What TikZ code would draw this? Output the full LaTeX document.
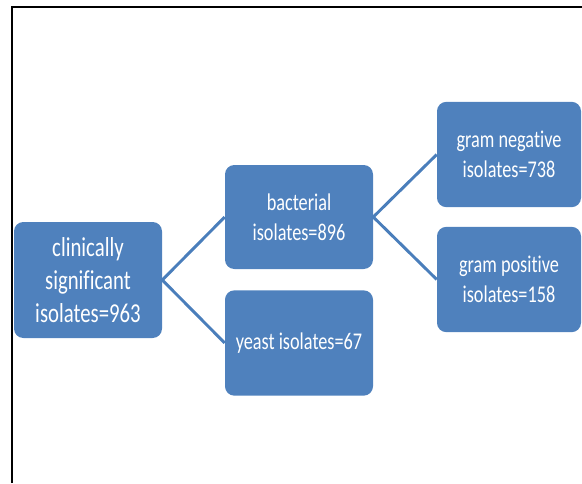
\documentclass[tikz,border=0pt]{standalone}
\usepackage{fontspec}
\setmainfont{Carlito}[FakeStretch=0.76, Ligatures={NoCommon, NoDiscretionary, NoContextual}]
\definecolor{boxblue}{HTML}{4F81BD}
\definecolor{lineblue}{HTML}{4A7EBB}

\tikzset{
	isolbox/.style={fill=boxblue, rounded corners=7pt, text=white, align=center,
		minimum width=111pt, inner sep=0pt, font=\fontsize{18}{22.5}\selectfont},
	branch/.style={lineblue, line width=2.2pt}
}

\begin{document}
\begin{tikzpicture}[x=0.75pt, y=0.75pt]
		\useasboundingbox (0,0) rectangle (582,483);

		% frame
		\draw[line width=1.6pt] (12,0) |- (582,476);

		\node[isolbox, minimum height=87pt, font=\fontsize{20.5}{24.8}\selectfont] (total) at (88,203) {clinically\\significant\\isolates=963};

		\node[isolbox, minimum height=78pt] (bact) at (299,266) {bacterial\\isolates=896};
		\node[isolbox, minimum height=79pt] (yeast) at (299,140) {yeast isolates=67};

		\node[isolbox, minimum width=108pt, minimum height=79pt] (gneg) at (509,328.5) {gram negative\\isolates=738};
		\node[isolbox, minimum width=108pt, minimum height=79pt] (gpos) at (509,203.5) {gram positive\\isolates=158};

		\draw[branch] (bact.west) -- (total.east) -- (yeast.west);
		\draw[branch] (gneg.west) -- (bact.east) -- (gpos.west);
	\end{tikzpicture}
\end{document}
